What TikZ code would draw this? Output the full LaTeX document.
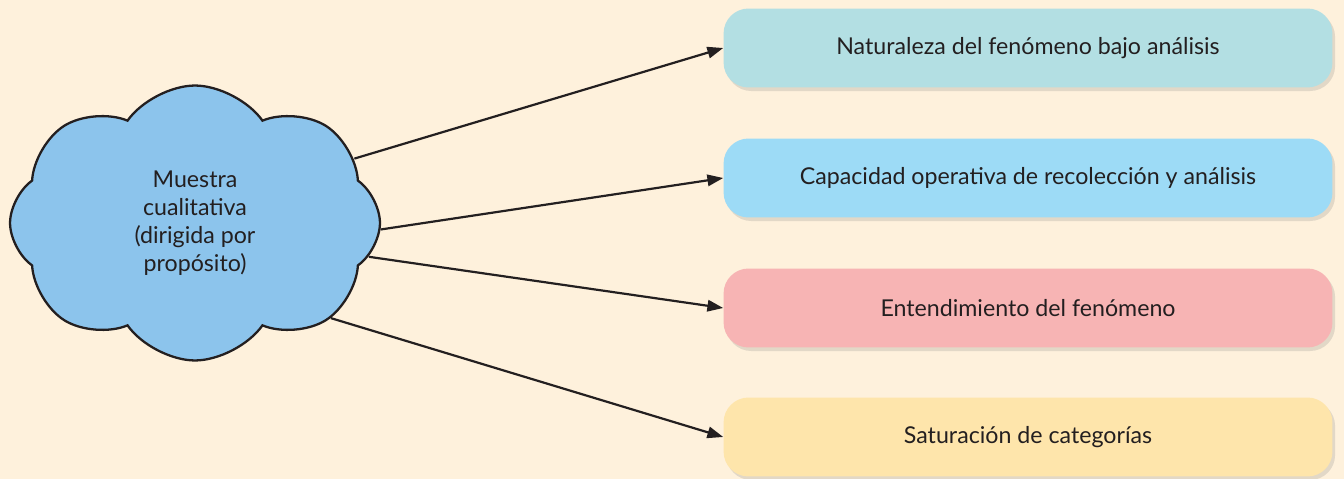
\documentclass[tikz,border=0pt]{standalone}
\usepackage{fontspec}
\setmainfont{Lato}
\usepackage{xcolor}
\usepackage{tikz}
\usetikzlibrary{arrows.meta, positioning, shapes.symbols, shadows}

\definecolor{bgcream}{HTML}{FEF1DC}
\definecolor{cloudblue}{HTML}{8CC4EC}
\definecolor{boxteal}{HTML}{B3DFE3}
\definecolor{boxblue}{HTML}{9DDBF6}
\definecolor{boxpink}{HTML}{F7B4B4}
\definecolor{boxyellow}{HTML}{FEE5AB}
\definecolor{inkgray}{HTML}{231F20}

\begin{document}
\begin{tikzpicture}[
  x=0.02cm, y=-0.02cm,
  % Right-hand result boxes
  rbox/.style={rectangle, rounded corners=0.5cm, fill=#1,
               minimum width=12.18cm, minimum height=1.58cm,
               font=\fontsize{13.2}{15}\selectfont, text=inkgray,
               drop shadow={opacity=0.22, shadow xshift=1.5pt, shadow yshift=-2pt}},
  % Source cloud
  srccloud/.style={cloud, cloud puffs=8, cloud puff arc=110, aspect=1.35,
                   draw=inkgray, line width=1.3pt, fill=cloudblue,
                   minimum width=7.4cm, minimum height=5.5cm,
                   font=\fontsize{13.2}{16}\selectfont, text=inkgray,
                   align=center, inner sep=0pt},
  arrow/.style={-{Triangle[length=9pt, width=6.5pt]}, line width=1.25pt, draw=inkgray}
]

%% ── Background and fixed margins ───────────────────────────
\fill[bgcream] (0,0) rectangle (1344,479);
\useasboundingbox (0,0) rectangle (1344,479);

%% ── Cloud on the left ──────────────────────────────────────
\node[srccloud] (muestra) at (195,223)
    {Muestra\\cualitativa\\(dirigida por\\propósito)};

%% ── Four result boxes (stacked on the right) ───────────────
\node[rbox=boxteal]   (nat) at (1028,48)  {Naturaleza del fenómeno bajo análisis};
\node[rbox=boxblue]   (cap) at (1028,178) {Capacidad operativa de recolección y análisis};
\node[rbox=boxpink]   (ent) at (1028,308) {Entendimiento del fenómeno};
\node[rbox=boxyellow] (sat) at (1028,437) {Saturación de categorías};

%% ── Arrows fanning out of the cloud ────────────────────────
\draw[arrow] (muestra.22)  -- (nat.west);
\draw[arrow] (muestra.-2)  -- (cap.west);
\draw[arrow] (muestra.-11) -- (ent.west);
\draw[arrow] (muestra.-35) -- (sat.west);

\end{tikzpicture}
\end{document}
